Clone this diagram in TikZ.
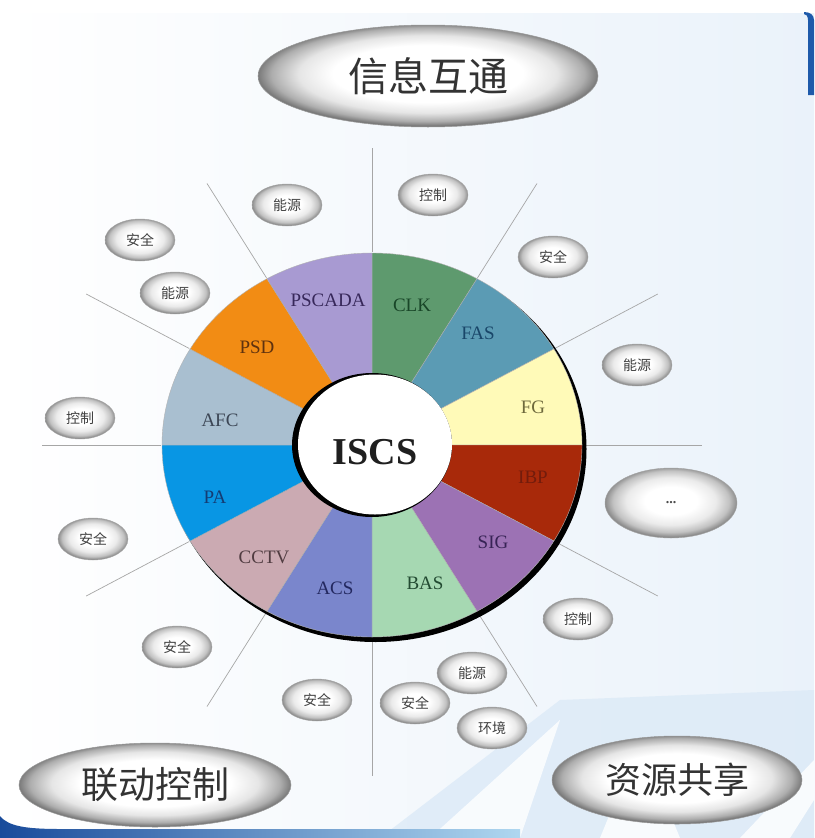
\documentclass[tikz,border=0pt]{standalone}
\usepackage{fontspec}
\setmainfont{Liberation Serif}
\newfontfamily\cjk{Noto Sans CJK SC}
\usetikzlibrary{shapes.geometric}
\definecolor{cCLK}{HTML}{5E9A6E}
\definecolor{cFAS}{HTML}{5B9BB4}
\definecolor{cFG}{HTML}{FFFAB8}
\definecolor{cRED}{HTML}{A8290A}
\definecolor{cSIG}{HTML}{9C72B4}
\definecolor{cBAS}{HTML}{A6D8B2}
\definecolor{cACS}{HTML}{7A86CC}
\definecolor{cCCTV}{HTML}{CBAAB2}
\definecolor{cPA}{HTML}{0896E4}
\definecolor{cAFC}{HTML}{A9BFD0}
\definecolor{cPSD}{HTML}{F28C14}
\definecolor{cPSCADA}{HTML}{A89AD2}
\definecolor{bgblue}{HTML}{EAF2FA}
\definecolor{rayblue}{HTML}{DCEAF7}
\definecolor{cornerblue}{HTML}{1E5AAA}
\definecolor{banddark}{HTML}{194B9B}
\definecolor{bandlight}{HTML}{AFD7F0}
\pgfdeclareradialshading{bubshade}{\pgfpoint{0bp}{2bp}}{color(0bp)=(white); color(10bp)=(white); color(17bp)=(black!8); color(22bp)=(black!24); color(25bp)=(black!45); color(50bp)=(black!45)}
\pgfdeclareradialshading{bigshade}{\pgfpoint{0bp}{1.5bp}}{color(0bp)=(white); color(14bp)=(white); color(19bp)=(black!10); color(23bp)=(black!32); color(25bp)=(black!52); color(50bp)=(black!52)}
\tikzset{
  bubble/.style={ellipse, shading=bubshade, draw=black!35, line width=0.4pt,
    minimum width=70pt, minimum height=42pt, inner sep=0pt,
    font=\cjk\fontsize{14}{14}\selectfont, text=black!75},
  bigbubble/.style={ellipse, shading=bigshade, draw=black!40, line width=0.5pt,
    inner sep=0pt, font=\cjk\fontsize{40}{40}\selectfont, text=black!80},
  seglabel/.style={font=\fontsize{19}{19}\selectfont},
  ray/.style={draw=black!35, line width=0.7pt}
}
\begin{document}
\begin{tikzpicture}[x=1pt,y=-1pt]
\useasboundingbox (0,0) rectangle (814,838);
% background
\fill[white] (0,0) rectangle (814,838);
\shade[left color=white, right color=bgblue] (0,13) rectangle (814,838);
\fill[rayblue, opacity=0.8] (380,838) -- (560,700) -- (814,690) -- (814,838) -- cycle;
\fill[white, opacity=0.8] (430,838) -- (560,720) -- (520,838) -- cycle;
\fill[white, opacity=0.8] (600,838) -- (640,740) -- (680,838) -- cycle;
\fill[white, opacity=0.8] (740,838) -- (814,760) -- (814,800) -- (790,838) -- cycle;
\fill[cornerblue] (804,12) .. controls (810,12) and (814,15) .. (814,20) -- (814,95) -- (808,95) -- (808,20) .. controls (808,16) and (806,14) .. (804,14) -- cycle;
\shade[left color=banddark, right color=bandlight]
  (0,816) .. controls (8,826) and (25,829) .. (60,829) -- (520,829) -- (520,838) -- (0,838) -- cycle;

% radial lines
\begin{scope}[shift={(372,445)}]
  \foreach \a in {60,30,0,-30,-60,-120,-150,180,150,120}{
    \coordinate (in\a) at (\a:211pt and 193pt);
    \coordinate (out\a) at (\a:330pt and 302pt);
    \draw[ray] (in\a) -- (out\a);
  }
  \coordinate (in90) at (90:211pt and 193pt);
  \coordinate (out90) at (90:330pt and 297pt);
  \draw[ray] (in90) -- (out90);
  \coordinate (inm90) at (-90:211pt and 193pt);
  \coordinate (outm90) at (-90:330pt and 331pt);
  \draw[ray] (inm90) -- (outm90);

  % shadow crescent
  \fill[black] (3.5pt,-4pt) ellipse [x radius=211pt, y radius=193pt];
  % sectors
  \foreach \a/\c in {90/cCLK,60/cFAS,30/cFG,0/cRED,-30/cSIG,-60/cBAS,-90/cACS,-120/cCCTV,-150/cPA,-180/cAFC,-210/cPSD,-240/cPSCADA}{
    \filldraw[fill=\c, draw=black!30, line width=0.4pt] (0,0) -- (\a:210pt and 192pt)
      arc[start angle=\a, end angle=\a-30, x radius=210pt, y radius=192pt] -- cycle;
  }
  % inner circle
  \fill[black] (0,0) ellipse [x radius=80pt, y radius=72pt];
  \fill[white] (3pt,0.5pt) ellipse [x radius=77pt, y radius=70pt];
\end{scope}

% segment labels
\node[seglabel, text={rgb,255:red,55;green,40;blue,90}] (lPSCADA) at (328,300) {PSCADA};
\node[seglabel, text={rgb,255:red,25;green,70;blue,40}] (lCLK) at (412,305) {CLK};
\node[seglabel, text={rgb,255:red,25;green,70;blue,105}] (lFAS) at (478,333) {FAS};
\node[seglabel, text={rgb,255:red,110;green,105;blue,60}] (lFG) at (533,407) {FG};
\node[seglabel, text={rgb,255:red,115;green,28;blue,12}] (lRED) at (533,477) {IBP};
\node[seglabel, text={rgb,255:red,55;green,35;blue,85}] (lSIG) at (493,542) {SIG};
\node[seglabel, text={rgb,255:red,35;green,75;blue,50}] (lBAS) at (425,583) {BAS};
\node[seglabel, text={rgb,255:red,35;green,40;blue,95}] (lACS) at (335,588) {ACS};
\node[seglabel, text={rgb,255:red,80;green,60;blue,65}] (lCCTV) at (264,557) {CCTV};
\node[seglabel, text={rgb,255:red,20;green,60;blue,115}] (lPA) at (215,497) {PA};
\node[seglabel, text={rgb,255:red,60;green,70;blue,85}] (lAFC) at (220,420) {AFC};
\node[seglabel, text={rgb,255:red,95;green,50;blue,15}] (lPSD) at (257,347) {PSD};
\node[font=\bfseries\fontsize{38}{38}\selectfont, text=black!88] (iscs) at (375,452) {ISCS};

% small bubbles
\node[bubble] (b1) at (287,205) {能源};
\node[bubble] (b2) at (140,240) {安全};
\node[bubble] (b3) at (175,293) {能源};
\node[bubble] (b4) at (80,418) {控制};
\node[bubble] (b5) at (93,539) {安全};
\node[bubble] (b6) at (177,647) {安全};
\node[bubble] (b7) at (317,700) {安全};
\node[bubble] (b9) at (415,703) {安全};
\node[bubble] (b8) at (472,673) {能源};
\node[bubble] (b10) at (492,728) {环境};
\node[bubble] (b11) at (578,619) {控制};
\node[bubble] (b12) at (637,365) {能源};
\node[bubble] (b13) at (553,257) {安全};
\node[bubble] (b14) at (433,195) {控制};
\node[bubble, minimum width=132pt, minimum height=70pt, font=\bfseries\fontsize{14}{14}\selectfont, text=black!70] (more) at (671,503) {...};

% big bubbles
\node[bigbubble, minimum width=340pt, minimum height=102pt] (info) at (428,76) {信息互通};
\node[bigbubble, minimum width=272pt, minimum height=84pt, font=\cjk\fontsize{37}{37}\selectfont] (link) at (155,785) {联动控制};
\node[bigbubble, minimum width=250pt, minimum height=88pt, font=\cjk\fontsize{36}{36}\selectfont] (share) at (677,780) {资源共享};
\end{tikzpicture}
\end{document}
